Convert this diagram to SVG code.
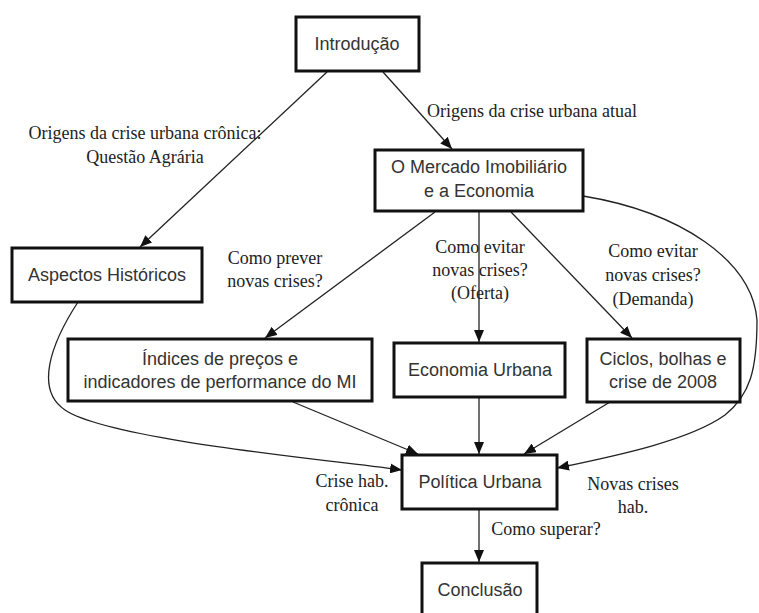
<svg xmlns="http://www.w3.org/2000/svg" width="759" height="613" viewBox="0 0 759 613">
<defs>
<marker id="arr" viewBox="0 0 12 10" markerUnits="userSpaceOnUse" markerWidth="12" markerHeight="10" refX="12" refY="5" orient="auto">
<path d="M0,0 L12,5 L0,10 z" fill="#111"/>
</marker>
<style>
.box{fill:#fff;stroke:#111;stroke-width:3}
.nt{font-family:"Liberation Sans",Arial,sans-serif;font-size:18px;fill:#333;text-anchor:middle}
.lb{font-family:"Liberation Serif","Times New Roman",serif;font-size:18px;fill:#222;text-anchor:middle}
.e{fill:none;stroke:#222;stroke-width:1.3;marker-end:url(#arr)}
</style>
</defs>
<rect width="759" height="613" fill="#fff"/>
<g id="connectors">
<path class="e" d="M327,72 L140,247"/>
<path class="e" d="M383,72 L452,149"/>
<path class="e" d="M435,212 L265,338"/>
<path class="e" d="M479,212 L479,342"/>
<path class="e" d="M511,212 L632,338"/>
<path class="e" d="M583,196 C680,212 752,260 757,320 C757,370 750,395 725,415 C690,440 620,455 557,468"/>
<path class="e" d="M78,302 C50,345 35,390 65,410 C110,440 330,460 402,470"/>
<path class="e" d="M293,402 L418,454"/>
<path class="e" d="M479,398 L479,454"/>
<path class="e" d="M610,402 L524,454"/>
<path class="e" d="M479,510 L479,562"/>
</g>
<g id="edge-labels">
<text class="lb" x="145" y="139">Origens da crise urbana crônica:</text>
<text class="lb" x="145" y="163">Questão Agrária</text>
<text class="lb" x="427" y="117" text-anchor="start" style="text-anchor:start">Origens da crise urbana atual</text>
<text class="lb" x="275" y="264">Como prever</text>
<text class="lb" x="275" y="287">novas crises?</text>
<text class="lb" x="480" y="253">Como evitar</text>
<text class="lb" x="480" y="276">novas crises?</text>
<text class="lb" x="480" y="299">(Oferta)</text>
<text class="lb" x="653" y="257">Como evitar</text>
<text class="lb" x="653" y="281">novas crises?</text>
<text class="lb" x="653" y="305">(Demanda)</text>
<text class="lb" x="352" y="487">Crise hab.</text>
<text class="lb" x="352" y="511">crônica</text>
<text class="lb" x="633" y="490">Novas crises</text>
<text class="lb" x="633" y="513">hab.</text>
<text class="lb" x="546" y="535">Como superar?</text>
</g>
<g id="introducao">
<rect class="box" x="296" y="17" width="123" height="54"/>
<text class="nt" x="357" y="50">Introdução</text>
</g>
<g id="mercado">
<rect class="box" x="375" y="150" width="208" height="61"/>
<text class="nt" x="479" y="173">O Mercado Imobiliário</text>
<text class="nt" x="479" y="197">e a Economia</text>
</g>
<g id="aspectos">
<rect class="box" x="12" y="248" width="190" height="54"/>
<text class="nt" x="107" y="281">Aspectos Históricos</text>
</g>
<g id="indices">
<rect class="box" x="68" y="339" width="304" height="62"/>
<text class="nt" x="220" y="365">Índices de preços e</text>
<text class="nt" x="220" y="388">indicadores de performance do MI</text>
</g>
<g id="economia">
<rect class="box" x="394" y="343" width="171" height="54"/>
<text class="nt" x="480" y="376">Economia Urbana</text>
</g>
<g id="ciclos">
<rect class="box" x="587" y="339" width="153" height="63"/>
<text class="nt" x="663" y="365">Ciclos, bolhas e</text>
<text class="nt" x="663" y="388">crise de 2008</text>
</g>
<g id="politica">
<rect class="box" x="402" y="455" width="155" height="54"/>
<text class="nt" x="480" y="488">Política Urbana</text>
</g>
<g id="conclusao">
<rect class="box" x="422" y="563" width="115" height="54"/>
<text class="nt" x="480" y="596">Conclusão</text>
</g>
</svg>
